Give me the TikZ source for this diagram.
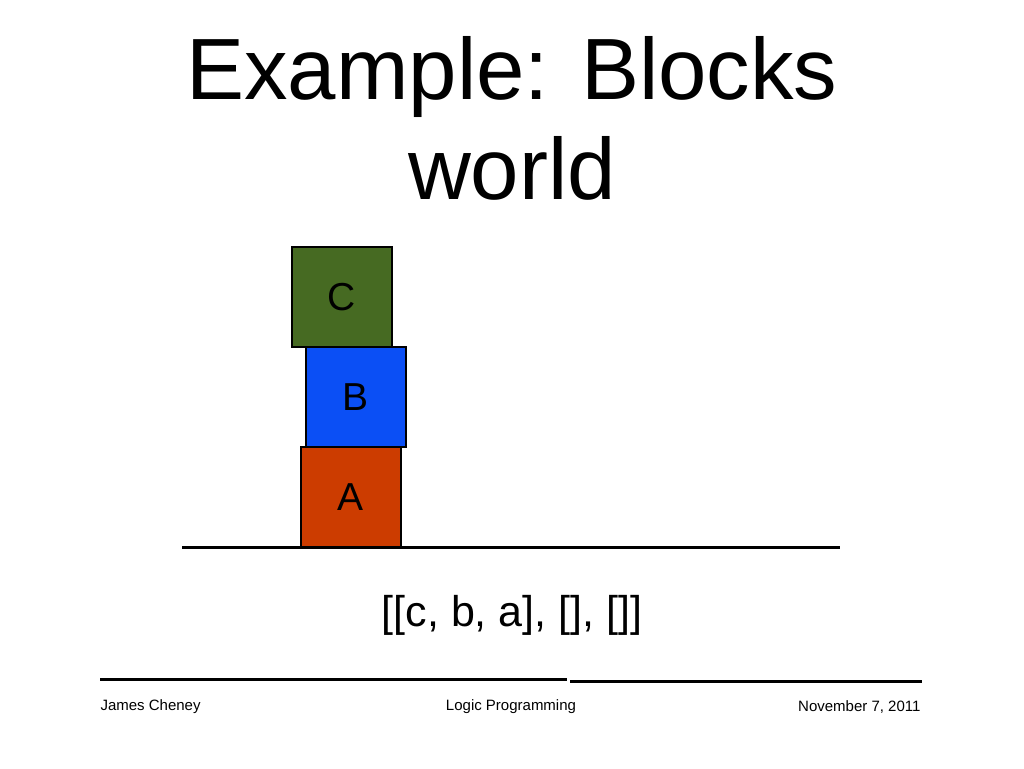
\documentclass[tikz,border=0pt]{standalone}
\usepackage{fontspec}
\setmainfont{Liberation Sans}
\usepackage{tikz}
\definecolor{blockc}{HTML}{466A22}
\definecolor{blockb}{HTML}{0B4FF5}
\definecolor{blocka}{HTML}{CC3C00}
\tikzset{block/.style={draw, line width=2pt, minimum width=100pt, minimum height=100pt, inner sep=0pt, font=\fontsize{39}{44}\selectfont}}

\begin{document}
\begin{tikzpicture}[x=1pt, y=-1pt]
\useasboundingbox (0,0) rectangle (1024,768);

\node [align=center, font=\fontsize{87}{100}\selectfont] (title) at (512, 118) {Example: Blocks\\world};

\node [block, fill=blockc] (c) at (342, 297) {C};
\node [block, fill=blockb] (b) at (356, 397) {B};
\node [block, fill=blocka] (a) at (351, 497) {A};

\draw [line width=3pt] (182, 547) -- (840, 547);

\node [font=\fontsize{43}{50}\selectfont] (state) at (512, 615) {[[c, b, a], [], []]};

\draw [line width=3pt] (100, 679) -- (567, 679);
\draw [line width=3pt] (570, 681) -- (922, 681);

\node [anchor=west, font=\fontsize{15}{18}\selectfont] (author) at (97, 707) {James Cheney};
\node [font=\fontsize{15}{18}\selectfont] (course) at (511, 707) {Logic Programming};
\node [anchor=east, font=\fontsize{15}{18}\selectfont] (date) at (924, 707) {November 7, 2011};
\end{tikzpicture}
\end{document}
